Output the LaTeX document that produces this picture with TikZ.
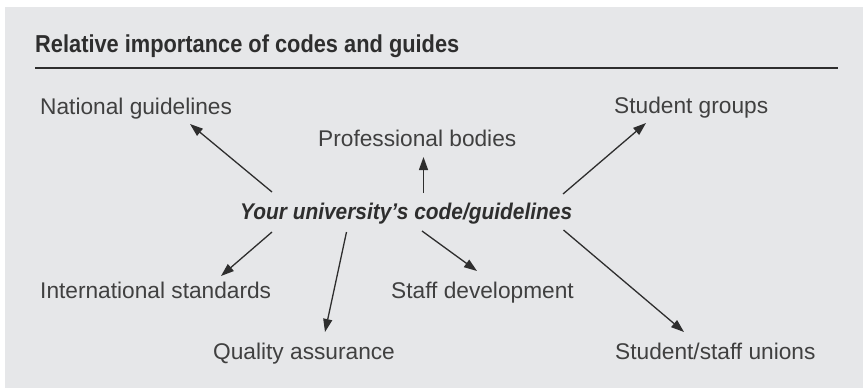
\documentclass[tikz,border=0pt]{standalone}
\usepackage{fontspec}
\setmainfont{Liberation Sans}
\newfontfamily\condfont{Liberation Sans}[FakeStretch=0.92]
\newfontfamily\titlefont{Liberation Sans}[FakeStretch=0.89]
\usetikzlibrary{arrows.meta}
\definecolor{panel}{HTML}{E6E7E9}
\definecolor{txt}{HTML}{404040}
\definecolor{dark}{HTML}{2E2E2E}
\tikzset{
  lbl/.style={anchor=base west, inner sep=0pt, text=txt, font=\fontsize{22.7}{27}\selectfont},
  ttl/.style={anchor=base west, inner sep=0pt, text=dark, font=\titlefont\bfseries\fontsize{24.5}{29}\selectfont},
  ctr/.style={anchor=base west, inner sep=0pt, text=dark, font=\condfont\bfseries\itshape\fontsize{22.7}{27}\selectfont},
  arr/.style={draw=dark, line width=1.3pt, -{Triangle[length=13pt, width=9pt]}},
}
\begin{document}
\begin{tikzpicture}[x=1pt, y=-1pt]
\useasboundingbox (0,0) rectangle (863,388);
\fill[white] (0,0) rectangle (863,388);
\fill[panel] (5,7) rectangle (863,388);
\node[ttl] (title) at (35,52) {Relative importance of codes and guides};
\draw[dark, line width=2.6pt] (35,68) coordinate (r1) -- (838,68) coordinate (r2);

\node[ctr] (centre) at (240,219) {Your university’s code/guidelines};
\node[lbl] (natl) at (40,114) {National guidelines};
\node[lbl] (prof) at (318,146.5) {Professional bodies};
\node[lbl] (sgrp) at (614,113) {Student groups};
\node[lbl] (intl) at (40,298) {International standards};
\node[lbl] (staff) at (391,298) {Staff development};
\node[lbl] (qual) at (213,359) {Quality assurance};
\node[lbl] (union) at (615,359) {Student/staff unions};

\coordinate (s1) at (272,192); \coordinate (e1) at (190,124);
\coordinate (s2) at (423.5,193); \coordinate (e2) at (423.5,157);
\coordinate (s3) at (563,194); \coordinate (e3) at (646,123);
\coordinate (s4) at (272,232); \coordinate (e4) at (221,276);
\coordinate (s5) at (346.5,232); \coordinate (e5) at (325,332);
\coordinate (s6) at (422,231); \coordinate (e6) at (477,271);
\coordinate (s7) at (563.5,230); \coordinate (e7) at (684,332);

\draw[arr] (s1) -- (e1);
\draw[arr] (s2) -- (e2);
\draw[arr] (s3) -- (e3);
\draw[arr] (s4) -- (e4);
\draw[arr] (s5) -- (e5);
\draw[arr] (s6) -- (e6);
\draw[arr] (s7) -- (e7);
\end{tikzpicture}
\end{document}
